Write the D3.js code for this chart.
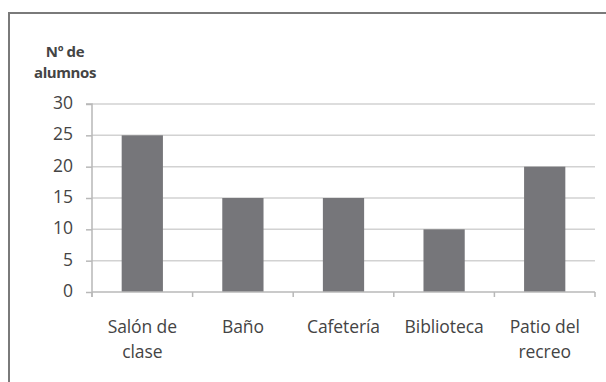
<!DOCTYPE html>
<html>
<head>
<meta charset="utf-8">
<script src="https://cdn.jsdelivr.net/npm/d3@7"></script>
<style>
  html, body { margin: 0; padding: 0; background: #fff; }
  svg { display: block; }
  text { font-family: "Open Sans", Lato, sans-serif; fill: #444; }
</style>
</head>
<body>
<svg id="chart" width="606" height="382"></svg>
<script>
// Students per school location
const categories = [["Salón de", "clase"], ["Baño"], ["Cafetería"], ["Biblioteca"], ["Patio del", "recreo"]];
const values = [25, 15, 15, 10, 20];
const yTicks = [0, 5, 10, 15, 20, 25, 30];
const yTitle = ["Nº de", "alumnos"];

const svg = d3.select("#chart");

// outer frame
svg.append("rect")
  .attr("x", 9).attr("y", 13)
  .attr("width", 620).attr("height", 400)
  .attr("fill", "#fff")
  .attr("stroke", "#7a7a7a")
  .attr("stroke-width", 2);

const plotLeft = 92, plotRight = 595, plotTop = 104, plotBottom = 292;

const x = d3.scaleBand()
  .domain(categories.map((d, i) => i))
  .range([plotLeft, plotRight])
  .paddingInner(0.59)
  .paddingOuter(0.295);

const y = d3.scaleLinear().domain([0, 30]).range([plotBottom, plotTop]);

// gridlines
svg.append("g")
  .selectAll("line")
  .data(yTicks.filter(t => t > 0))
  .join("line")
  .attr("x1", plotLeft).attr("x2", plotRight)
  .attr("y1", d => y(d)).attr("y2", d => y(d))
  .attr("stroke", "#d2d2d2")
  .attr("stroke-width", 1.5);

// bars
svg.append("g")
  .selectAll("rect")
  .data(values)
  .join("rect")
  .attr("x", (d, i) => x(i))
  .attr("y", d => y(d))
  .attr("width", x.bandwidth())
  .attr("height", d => y(0) - y(d))
  .attr("fill", "#76767a");

// y axis
const yAxis = svg.append("g")
  .attr("transform", `translate(${plotLeft},0)`)
  .call(d3.axisLeft(y).tickValues(yTicks).tickSize(6).tickPadding(13));
yAxis.selectAll("path, line").attr("stroke", "#b8b8b8").attr("stroke-width", 1.5);
yAxis.select(".domain").attr("d", `M-6,${plotTop}H0V${plotBottom + 5}`);
yAxis.selectAll("text")
  .style("font-family", "'Open Sans', Lato, sans-serif")
  .style("font-size", "17.5px")
  .attr("dy", "0.25em")
  .attr("fill", "#444");

// x axis
const step = x.step();
const xAxis = svg.append("g").attr("transform", `translate(0,${plotBottom})`);
xAxis.append("line")
  .attr("x1", plotLeft).attr("x2", plotRight)
  .attr("stroke", "#b8b8b8").attr("stroke-width", 1.5);
xAxis.selectAll("line.tick")
  .data(d3.range(categories.length + 1))
  .join("line")
  .attr("class", "tick")
  .attr("x1", i => plotLeft + i * step).attr("x2", i => plotLeft + i * step)
  .attr("y1", 0).attr("y2", 5)
  .attr("stroke", "#b8b8b8").attr("stroke-width", 1.5);

xAxis.selectAll("text.cat")
  .data(categories)
  .join("text")
  .attr("class", "cat")
  .attr("text-anchor", "middle")
  .attr("x", (d, i) => x(i) + x.bandwidth() / 2)
  .attr("y", 41)
  .style("font-size", "17.5px")
  .style("letter-spacing", "-0.1px")
  .selectAll("tspan")
  .data(d => d)
  .join("tspan")
  .attr("x", function() { return d3.select(this.parentNode).attr("x"); })
  .attr("dy", (d, i) => i === 0 ? 0 : 25)
  .text(d => d);

// y axis title
svg.append("text")
  .attr("text-anchor", "middle")
  .attr("x", 65).attr("y", 57)
  .style("font-size", "15px")
  .style("font-weight", "bold")
  .style("letter-spacing", "-0.4px")
  .attr("fill", "#333")
  .selectAll("tspan")
  .data(yTitle)
  .join("tspan")
  .attr("x", 65)
  .attr("dy", (d, i) => i === 0 ? 0 : 21)
  .text(d => d);
</script>
</body>
</html>
